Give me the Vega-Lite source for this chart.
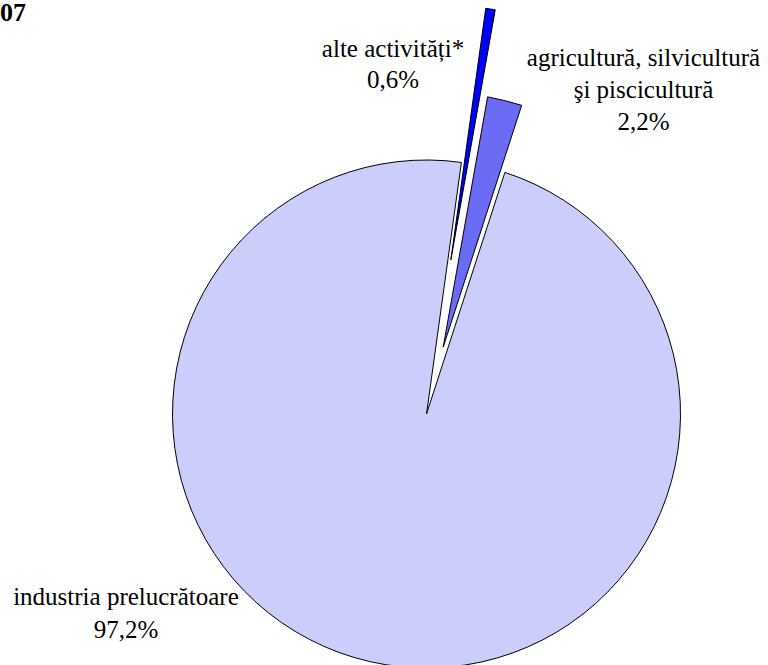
{
  "$schema": "https://vega.github.io/schema/vega-lite/v6.json",
  "width": 508,
  "height": 508,
  "autosize": {"type": "none"},
  "padding": {"left": 172.5, "top": 160, "right": 87.5, "bottom": 0},
  "background": "white",
  "title": {"text": "2007", "anchor": "start", "frame": "group", "font": "Liberation Serif, Times New Roman, serif", "fontSize": 26, "fontWeight": "bold", "color": "black", "baseline": "alphabetic", "dx": -198.5, "dy": 45},
  "config": {"view": {"stroke": null}},
  "data": {"values": [
    {"category": "alte", "label": "alte activități*\n0,6%", "value": 0.6},
    {"category": "agri", "label": "agricultură, silvicultură\nşi piscicultură\n2,2%", "value": 2.2},
    {"category": "industria", "label": "industria prelucrătoare\n97,2%", "value": 97.2}
  ]},
  "transform": [{"stack": "value", "groupby": [], "sort": [{"field": "value", "order": "ascending"}], "as": ["v0", "v1"]}],
  "layer": [
    {
      "transform": [{"filter": "datum.category == 'industria'"}],
      "mark": {"type": "arc", "radius": 254, "fill": "#cbcefb", "stroke": "black", "strokeWidth": 1},
      "encoding": {
        "theta": {"field": "v0", "type": "quantitative", "stack": null, "scale": {"type": "linear", "domain": [0, 100], "range": [0.137881, 6.421066]}},
        "theta2": {"field": "v1"}
      }
    },
    {
      "transform": [{"filter": "datum.category == 'agri'"}],
      "mark": {"type": "arc", "radius": 323, "radius2": 69, "padAngle": 0.028856, "fill": "#6b6bf5", "stroke": "black", "strokeWidth": 1},
      "encoding": {
        "theta": {"field": "v0", "type": "quantitative", "stack": null, "scale": {"type": "linear", "domain": [0, 100], "range": [0.137881, 6.421066]}},
        "theta2": {"field": "v1"}
      }
    },
    {
      "transform": [{"filter": "datum.category == 'alte'"}],
      "mark": {"type": "arc", "radius": 410, "radius2": 156, "padAngle": 0.0134057, "fill": "#0000ff", "stroke": "black", "strokeWidth": 1},
      "encoding": {
        "theta": {"field": "v0", "type": "quantitative", "stack": null, "scale": {"type": "linear", "domain": [0, 100], "range": [0.137881, 6.421066]}},
        "theta2": {"field": "v1"}
      }
    },
    {
      "transform": [{"filter": "datum.category == 'alte'"}],
      "mark": {"type": "text", "font": "Liberation Serif, Times New Roman, serif", "fontSize": 25, "lineHeight": 31, "lineBreak": "\n", "align": "center", "baseline": "alphabetic", "color": "black", "radius": 358.6, "thetaOffset": -0.2314},
      "encoding": {
        "theta": {"field": "v0", "type": "quantitative", "stack": null, "scale": {"type": "linear", "domain": [0, 100], "range": [0.137881, 6.421066]}},
        "text": {"field": "label"}
      }
    },
    {
      "transform": [{"filter": "datum.category == 'agri'"}],
      "mark": {"type": "text", "font": "Liberation Serif, Times New Roman, serif", "fontSize": 25, "lineHeight": 32, "lineBreak": "\n", "align": "center", "baseline": "alphabetic", "color": "black", "radius": 410, "thetaOffset": 0.3821},
      "encoding": {
        "theta": {"field": "v0", "type": "quantitative", "stack": null, "scale": {"type": "linear", "domain": [0, 100], "range": [0.137881, 6.421066]}},
        "text": {"field": "label"}
      }
    },
    {
      "transform": [{"filter": "datum.category == 'industria'"}],
      "mark": {"type": "text", "font": "Liberation Serif, Times New Roman, serif", "fontSize": 25, "lineHeight": 33, "lineBreak": "\n", "align": "center", "baseline": "alphabetic", "color": "black", "radius": 356.1, "thetaOffset": 3.8324},
      "encoding": {
        "theta": {"field": "v0", "type": "quantitative", "stack": null, "scale": {"type": "linear", "domain": [0, 100], "range": [0.137881, 6.421066]}},
        "text": {"field": "label"}
      }
    }
  ]
}
